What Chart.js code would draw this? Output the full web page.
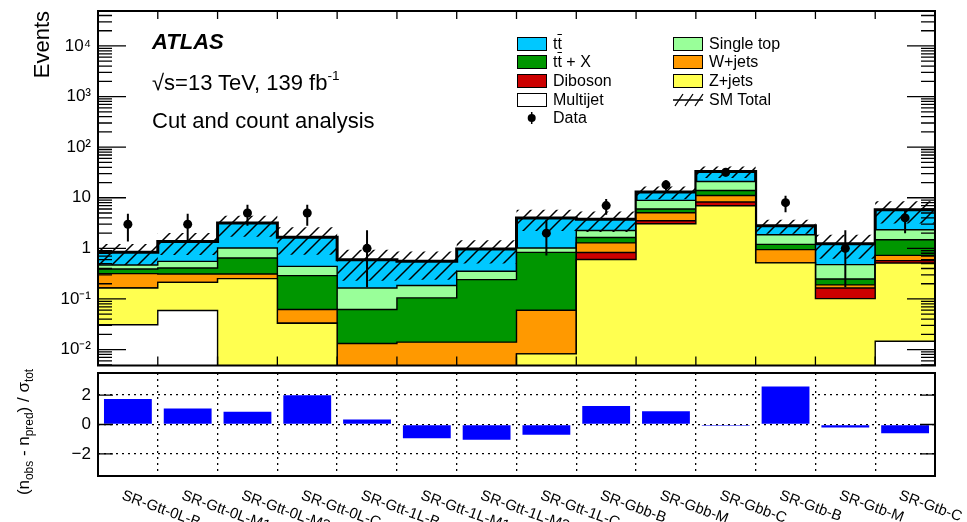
<!DOCTYPE html>
<html><head><meta charset="utf-8">
<script src="https://cdn.jsdelivr.net/npm/chart.js@4.4.0/dist/chart.umd.min.js"></script>
<style>
html,body{margin:0;padding:0;background:#fff;}
#wrap{position:relative;width:967px;height:522px;overflow:hidden;font-family:"Liberation Sans",Arial,Helvetica,sans-serif;color:#000;}
canvas{position:absolute;left:0;}
.t{position:absolute;white-space:nowrap;line-height:1;}
.box{position:absolute;width:30px;height:14px;border:1.5px solid #000;box-sizing:border-box;}
.lt{position:absolute;white-space:nowrap;font-size:16px;line-height:16px;}
.ol{text-decoration:overline;}
#rtitle{position:absolute;left:-46px;top:420px;width:140px;height:24px;line-height:24px;font-size:17px;text-align:center;transform:rotate(-90deg);white-space:nowrap;}
#rtitle sub{font-size:0.7em;vertical-align:-0.35em;line-height:0;}
</style></head><body>
<div id="wrap">
<canvas id="main" width="967" height="370" style="top:0"></canvas>
<canvas id="ratio" width="967" height="152" style="top:370px"></canvas>

<div class="t" style="left:152px;top:31.4px;font-size:22px;font-weight:bold;font-style:italic;">ATLAS</div>
<div class="t" style="left:152px;top:72px;font-size:22px;">√s=13 TeV, 139 fb<sup style="font-size:0.62em;vertical-align:0.75em;line-height:0">-1</sup></div>
<div class="t" style="left:152px;top:109.7px;font-size:22px;">Cut and count analysis</div>

<div id="legend"></div>
<div id="rtitle">(n<sub>obs</sub> - n<sub>pred</sub>) / σ<sub>tot</sub></div>
</div>
<script>
// ---------------- data ----------------
const categories = ["SR-Gtt-0L-B","SR-Gtt-0L-M1","SR-Gtt-0L-M2","SR-Gtt-0L-C","SR-Gtt-1L-B","SR-Gtt-1L-M1","SR-Gtt-1L-M2","SR-Gtt-1L-C","SR-Gbb-B","SR-Gbb-M","SR-Gbb-C","SR-Gtb-B","SR-Gtb-M","SR-Gtb-C"];
// stacked background components (bottom to top)
const multijet  = [0.031, 0.059, 0.002, 0.002, 0.001, 0.001, 0.001, 0.001, 0.001, 0.001, 0.001, 0.001, 0.001, 0.0146];
const zjets     = [0.134, 0.154, 0.25, 0.031, 0.002, 0.002, 0.002, 0.0072, 0.60, 3.07, 6.96, 0.515, 0.1006, 0.50];
const diboson   = [0, 0, 0, 0, 0, 0, 0, 0, 0.23, 0.45, 1.28, 0, 0.063, 0.057];
const wjets     = [0.152, 0.099, 0.06, 0.029, 0.0102, 0.011, 0.011, 0.0516, 0.45, 1.55, 2.86, 0.428, 0.025, 0.156];
const ttX       = [0.075, 0.098, 0.334, 0.227, 0.0485, 0.091, 0.227, 0.774, 0.36, 0.92, 2.85, 0.257, 0.059, 0.757];
const singleTop = [0.078, 0.144, 0.374, 0.152, 0.103, 0.079, 0.111, 0.186, 0.62, 2.87, 7.05, 0.66, 0.228, 0.855];
const ttbar     = [0.37, 0.82, 2.15, 1.21, 0.433, 0.37, 0.621, 2.96, 1.49, 4.11, 12.1, 0.95, 0.763, 3.46];
// SM total uncertainty band
const bandLow   = [0.47, 0.74, 1.7, 0.75, 0.23, 0.24, 0.50, 2.2, 2.1, 9.3, 24.7, 1.94, 0.62, 3.1];
const bandHigh  = [1.22, 2.01, 4.4, 2.6, 0.94, 0.87, 1.44, 5.8, 5.37, 16.7, 41.5, 3.68, 1.86, 8.5];
// observed data
const observed   = [3, 3, 5, 5, 1, 0, 0, 2, 7, 18, 32, 8, 1, 4];
const obsErrLow  = [1.37, 1.37, 2.8, 2.8, 0.17, null, null, 0.72, 4.6, 13.8, 26.3, 5.2, 0.17, 2.0];
const obsErrHigh = [4.84, 4.84, 7.3, 7.3, 2.27, null, null, 3.68, 9.4, 22.2, 37.7, 10.9, 2.27, 6.0];
// significance panel
const significance = [1.74, 1.08, 0.86, 1.98, 0.34, -0.93, -1.04, -0.70, 1.26, 0.90, -0.09, 2.59, -0.20, -0.59];
// tick labels
const yTickValues = [1e-2, 1e-1, 1, 10, 1e2, 1e3, 1e4];
const yTickLabels = ["10\u207B\u00B2", "10\u207B\u00B9", "1", "10", "10\u00B2", "10\u00B3", "10\u2074"];
const rTickValues = [-2, 0, 2];
const rTickLabels = ["\u22122", "0", "2"];

// ---------------- styles ----------------
const FONT = '"Liberation Sans", Arial, Helvetica, sans-serif';
const components = [
  {name:'Multijet',   data:multijet,  color:'#ffffff'},
  {name:'Z+jets',     data:zjets,     color:'#ffff50'},
  {name:'Diboson',    data:diboson,   color:'#cc0000'},
  {name:'W+jets',     data:wjets,     color:'#ff9900'},
  {name:'tt + X',     data:ttX,       color:'#009600'},
  {name:'Single top', data:singleTop, color:'#99ff99'},
  {name:'tt',         data:ttbar,     color:'#00c8ff'}
];

function hatchPattern(){
  const s = 13, c = document.createElement('canvas');
  c.width = s; c.height = s;
  const g = c.getContext('2d');
  g.strokeStyle = '#000'; g.lineWidth = 1.5;
  g.beginPath();
  g.moveTo(0, s); g.lineTo(s, 0);
  g.moveTo(-3, 3); g.lineTo(3, -3);
  g.moveTo(s-3, s+3); g.lineTo(s+3, s-3);
  g.stroke();
  return g.createPattern(c, 'repeat');
}
const hatch = hatchPattern();

// step-histogram points on a linear x axis (bin i spans [i, i+1])
function steps(arr){
  const pts = arr.map((v,i)=>({x:i, y:v}));
  pts.push({x:arr.length, y:arr[arr.length-1]});
  return pts;
}
// cumulative stack built from the component arrays
let running = categories.map(()=>0);
const stackSets = components.map((c)=>{
  running = running.map((r,i)=>r + c.data[i]);
  return {name:c.name, color:c.color, cum: running.slice()};
});

const datasets = [];
datasets.push({label:'Data', data: observed.map((v,i)=>({x:i+0.5, y:v})), showLine:false,
  pointRadius:4.5, pointHoverRadius:4.5, pointBackgroundColor:'#000', pointBorderWidth:0, borderColor:'#000'});
const errPts = [];
categories.forEach((c,i)=>{
  if (obsErrLow[i] == null) return;
  errPts.push({x:i+0.5, y:obsErrLow[i]}, {x:i+0.5, y:obsErrHigh[i]}, {x:i+0.5, y:null});
});
datasets.push({label:'DataErr', data: errPts, borderColor:'#000', borderWidth:2, pointRadius:0, spanGaps:false, fill:false});
datasets.push({label:'bandHigh', data: steps(bandHigh), stepped:true, borderWidth:0, pointRadius:0, fill:'+1', backgroundColor:hatch});
datasets.push({label:'bandLow', data: steps(bandLow), stepped:true, borderWidth:0, pointRadius:0, fill:false});
stackSets.forEach((s,k)=>{
  datasets.push({label:s.name, data: steps(s.cum), stepped:true, pointRadius:0,
    borderColor:'#000', borderWidth: k === stackSets.length-1 ? 3 : 1.4,
    backgroundColor:s.color, fill:'start'});
});

const mainFrame = {
  id:'mainFrame',
  afterDatasetsDraw(chart){
    const {ctx, chartArea:a, scales:{x, y}} = chart;
    ctx.save();
    ctx.strokeStyle = '#000'; ctx.lineWidth = 1.3;
    ctx.beginPath();
    for (let i=1;i<categories.length;i++){
      const px = x.getPixelForValue(i);
      ctx.moveTo(px, a.top); ctx.lineTo(px, a.top+8);
      ctx.moveTo(px, a.bottom); ctx.lineTo(px, a.bottom-9);
    }
    for (let d=-3; d<=4; d++){
      for (let k=1;k<=9;k++){
        const v = k*Math.pow(10,d);
        if (v < y.min || v > y.max) continue;
        const py = y.getPixelForValue(v);
        const len = k===1 ? 28 : 14;
        ctx.moveTo(a.left, py); ctx.lineTo(a.left+len, py);
        ctx.moveTo(a.right, py); ctx.lineTo(a.right-len, py);
      }
    }
    ctx.stroke();
    ctx.lineWidth = 2;
    ctx.strokeRect(a.left, a.top, a.right-a.left, a.bottom-a.top);
    ctx.restore();
  }
};

new Chart(document.getElementById('main'), {
  type:'line',
  data:{datasets},
  options:{
    responsive:false, animation:false, devicePixelRatio:1,
    layout:{padding:{left:0, right:32, top:11, bottom:4}},
    plugins:{legend:{display:false}, tooltip:{enabled:false}},
    events:[],
    scales:{
      x:{type:'linear', min:0, max:categories.length, display:false},
      y:{type:'logarithmic', min:Math.pow(10,-2.315), max:Math.pow(10,4.691),
        grid:{display:false, drawTicks:false}, border:{display:false},
        afterBuildTicks:(s)=>{ s.ticks = yTickValues.map(v=>({value:v})); },
        afterFit:(s)=>{ s.width = 98; s.paddingTop = 0; s.paddingBottom = 0; },
        ticks:{padding:7, color:'#000', font:{family:FONT, size:17},
          callback:(v)=>{ const i = yTickValues.indexOf(v); return i>=0 ? yTickLabels[i] : ''; }},
        title:{display:true, text:'Events', align:'end', color:'#000', font:{family:FONT, size:22}, padding:{top:30, bottom:0}}
      }
    }
  },
  plugins:[mainFrame]
});

const ratioFrame = {
  id:'ratioFrame',
  afterDatasetsDraw(chart){
    const {ctx, chartArea:a, scales:{y}} = chart;
    ctx.save();
    ctx.strokeStyle = '#000'; ctx.lineWidth = 1.3;
    ctx.beginPath();
    rTickValues.forEach(v=>{
      const py = y.getPixelForValue(v);
      ctx.moveTo(a.left, py); ctx.lineTo(a.left+15, py);
      ctx.moveTo(a.right, py); ctx.lineTo(a.right-15, py);
    });
    ctx.stroke();
    ctx.lineWidth = 2;
    ctx.strokeRect(a.left, a.top, a.right-a.left, a.bottom-a.top);
    ctx.restore();
  },
  afterDraw(chart){
    const {ctx, scales:{x}} = chart;
    ctx.save();
    ctx.font = '15px ' + FONT; ctx.fillStyle = '#000';
    ctx.textAlign = 'left'; ctx.textBaseline = 'alphabetic';
    categories.forEach((c,i)=>{
      const px = x.getPixelForValue(i);
      ctx.save();
      ctx.translate(px-7, 129);
      ctx.rotate(20*Math.PI/180);
      ctx.fillText(c, 0, 0);
      ctx.restore();
    });
    ctx.restore();
  }
};

new Chart(document.getElementById('ratio'), {
  type:'bar',
  data:{labels:categories, datasets:[{label:'significance', data:significance, backgroundColor:'#0000ff', borderWidth:0,
    categoryPercentage:0.8, barPercentage:1.0}]},
  options:{
    responsive:false, animation:false, devicePixelRatio:1,
    layout:{padding:{left:0, right:32, top:3, bottom:46}},
    plugins:{legend:{display:false}, tooltip:{enabled:false}},
    events:[],
    scales:{
      x:{type:'category', offset:true,
        grid:{display:true, drawOnChartArea:true, drawTicks:false, offset:true, color:'#000', lineWidth:1.3},
        border:{display:false, dash:[2,4]},
        ticks:{display:false},
        afterFit:(s)=>{ s.height = 0; s.paddingLeft = 0; s.paddingRight = 0; }
      },
      y:{type:'linear', min:-3.5, max:3.5,
        grid:{display:true, drawTicks:false, color:'#000', lineWidth:1.3},
        border:{display:false, dash:[2,4]},
        afterBuildTicks:(s)=>{ s.ticks = rTickValues.map(v=>({value:v})); },
        afterFit:(s)=>{ s.width = 98; s.paddingTop = 0; s.paddingBottom = 0; },
        ticks:{padding:7, color:'#000', font:{family:FONT, size:17},
          callback:(v)=>{ const i = rTickValues.indexOf(v); return i>=0 ? rTickLabels[i] : ''; }}
      }
    }
  },
  plugins:[ratioFrame]
});

// ---------------- legend (HTML text) ----------------
const legendItems = [
  {col:0,row:0,html:'t<span class="ol">t</span>', color:'#00c8ff'},
  {col:0,row:1,html:'t<span class="ol">t</span> + X', color:'#009600'},
  {col:0,row:2,html:'Diboson', color:'#cc0000'},
  {col:0,row:3,html:'Multijet', color:'#ffffff'},
  {col:0,row:4,html:'Data', marker:'data'},
  {col:1,row:0,html:'Single top', color:'#99ff99'},
  {col:1,row:1,html:'W+jets', color:'#ff9900'},
  {col:1,row:2,html:'Z+jets', color:'#ffff50'},
  {col:1,row:3,html:'SM Total', marker:'band'}
];
const lg = document.getElementById('legend');
const colBox = [517, 673], colText = [553, 709];
legendItems.forEach(it=>{
  const cy = 43.7 + it.row*18.65;
  if (it.marker === 'data'){
    lg.insertAdjacentHTML('beforeend', `<svg style="position:absolute;left:${colBox[it.col]}px;top:${cy-8}px" width="30" height="16"><line x1="14.7" y1="2" x2="14.7" y2="14" stroke="#000" stroke-width="1.5"/><circle cx="14.7" cy="8" r="4" fill="#000"/></svg>`);
  } else if (it.marker === 'band'){
    lg.insertAdjacentHTML('beforeend', `<svg style="position:absolute;left:${colBox[it.col]}px;top:${cy-8}px" width="31" height="16"><line x1="0" y1="8" x2="30" y2="8" stroke="#000" stroke-width="1.5"/><path d="M2 14 L10 2 M12 14 L20 2 M22 14 L30 2" stroke="#000" stroke-width="1.3" fill="none"/></svg>`);
  } else {
    lg.insertAdjacentHTML('beforeend', `<div class="box" style="left:${colBox[it.col]}px;top:${cy-7}px;background:${it.color}"></div>`);
  }
  lg.insertAdjacentHTML('beforeend', `<div class="lt" style="left:${colText[it.col]}px;top:${cy-8}px">${it.html}</div>`);
});
</script>
</body></html>
